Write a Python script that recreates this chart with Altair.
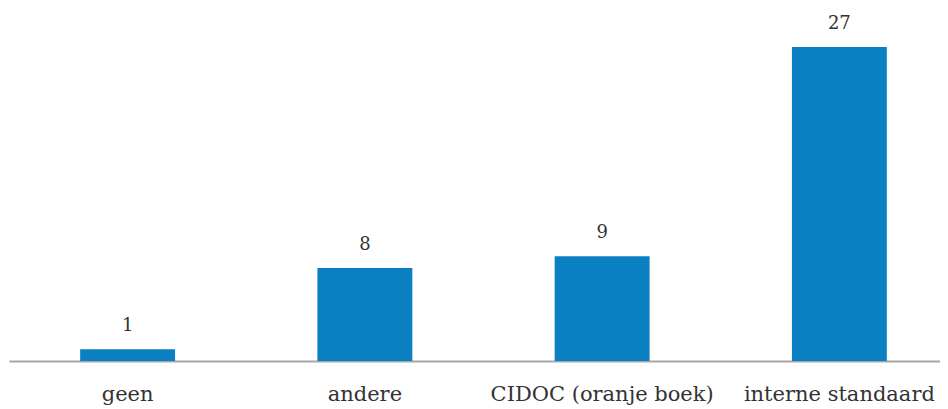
import altair as alt
import pandas as pd

categories = ["geen", "andere", "CIDOC (oranje boek)", "interne standaard"]
values = [1, 8, 9, 27]

df = pd.DataFrame({"cat": categories, "val": values})

base = alt.Chart(df).encode(
    x=alt.X("cat:N", sort=categories,
            scale=alt.Scale(paddingInner=0.6, paddingOuter=0.3, range=[0, 949]),
            axis=alt.Axis(title=None, labelAngle=0, ticks=False, domainColor="#A6A6A6",
                          domainWidth=2, labelFont="DejaVu Serif", labelFontSize=21,
                          labelColor="#333333", labelPadding=39, labelBaseline="alphabetic",
                          labelFontWeight="normal", labelOverlap=False, labelBound=False,
                          labelLimit=400)),
    y=alt.Y("val:Q", scale=alt.Scale(domain=[0, 30], nice=False),
            axis=None),
)

bars = base.mark_bar(color="#0A7FC1")
text = base.mark_text(dy=-14, baseline="bottom", font="DejaVu Serif", fontSize=18,
                      color="#333333").encode(text="val:Q")

chart = (bars + text).properties(
    width=931, height=349,
    padding={"left": 1, "top": 4, "right": 0, "bottom": 46},
    autosize=alt.AutoSizeParams(type="none"),
).configure_view(stroke=None)

chart.save("out.html", embed_options={"renderer": "svg", "actions": False})
